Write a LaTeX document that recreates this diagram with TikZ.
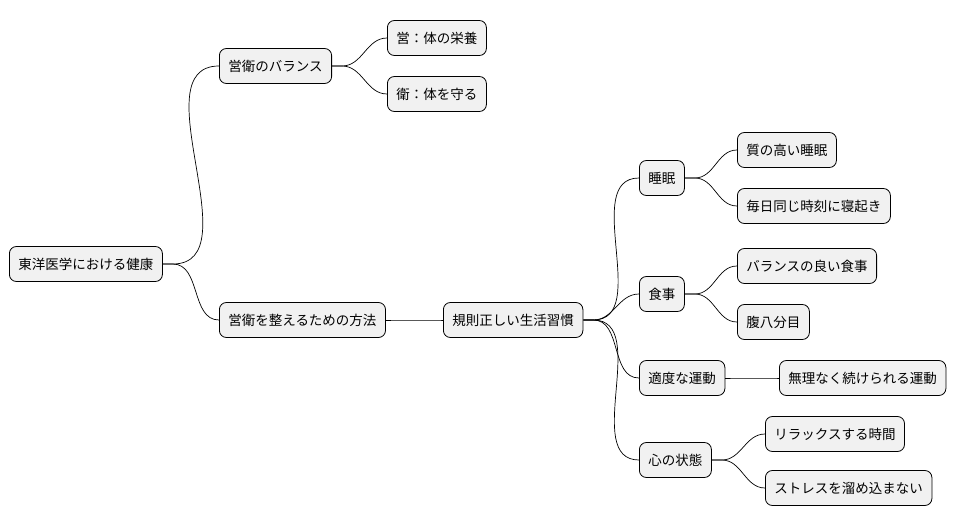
\documentclass[tikz,border=0pt]{standalone}
\usepackage{fontspec}
\setmainfont{Noto Sans CJK JP}
\begin{document}
\begin{tikzpicture}[x=1pt,y=-1pt,
  n/.style={draw=black,line width=0.8pt,fill={rgb,255:red,241;green,241;blue,241},rounded corners=7pt,anchor=west,minimum height=35pt,inner xsep=9pt,font=\fontsize{13.5}{14}\selectfont},
  c/.style={line width=0.7pt}]
\useasboundingbox (0,0) rectangle (964,527);
\node[n] (r) at (9,264) {東洋医学における健康};
\node[n] (a) at (219,66) {営衛のバランス};
\node[n] (a1) at (387,38) {営：体の栄養};
\node[n] (a2) at (387,94) {衛：体を守る};
\node[n] (b) at (219,320) {営衛を整えるための方法};
\node[n] (b1) at (443,320) {規則正しい生活習慣};
\node[n] (s) at (639,178) {睡眠};
\node[n] (s1) at (737,150) {質の高い睡眠};
\node[n] (s2) at (737,206) {毎日同じ時刻に寝起き};
\node[n] (f) at (639,294) {食事};
\node[n] (f1) at (737,266) {バランスの良い食事};
\node[n] (f2) at (737,322) {腹八分目};
\node[n] (e) at (639,378) {適度な運動};
\node[n] (e1) at (779,378) {無理なく続けられる運動};
\node[n] (m) at (639,460) {心の状態};
\node[n] (m1) at (765,434) {リラックスする時間};
\node[n] (m2) at (765,488) {ストレスを溜め込まない};
\foreach \p/\q in {r/a,r/b,a/a1,a/a2,b/b1,b1/s,b1/f,b1/e,b1/m,s/s1,s/s2,f/f1,f/f2,e/e1,m/m1,m/m2}
  \draw[c] (\p.east) -- ++(10,0) to[out=0,in=180] (\q.west);
\end{tikzpicture}
\end{document}
